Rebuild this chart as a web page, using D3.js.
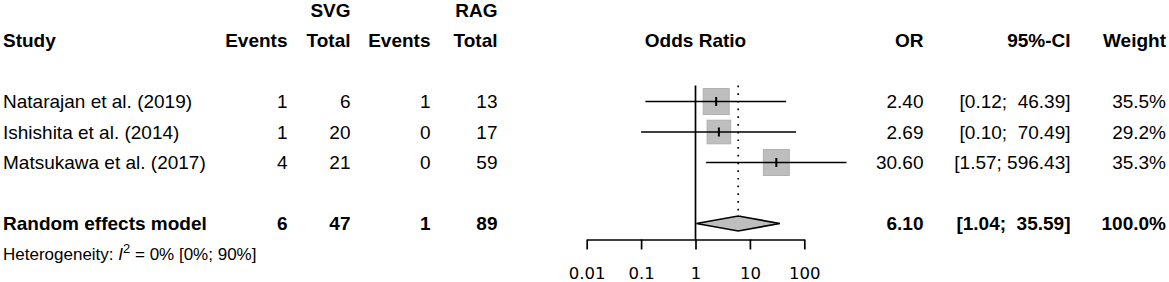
<!DOCTYPE html>
<html lang="en">
<head>
<meta charset="utf-8">
<title>Forest plot: SVG vs RAG</title>
<script src="https://d3js.org/d3.v7.min.js"></script>
<style>
  body { margin: 0; background: #fff; }
  svg text { font-family: "Liberation Sans", Arial, sans-serif; font-size: 19px; fill: #000; white-space: pre; }
  .bold { font-weight: bold; }
  .axis text { font-family: "DejaVu Sans", sans-serif; font-size: 16.5px; }
  .axis path, .axis line { stroke: #000; stroke-width: 1.7; }
</style>
</head>
<body>
<script>
// study level data
var studies   = ["Natarajan et al. (2019)", "Ishishita et al. (2014)", "Matsukawa et al. (2017)"];
var eventsSVG = [1, 1, 4];
var totalSVG  = [6, 20, 21];
var eventsRAG = [1, 0, 0];
var totalRAG  = [13, 17, 59];
var oddsRatio = [2.40, 2.69, 30.60];
var ciLower   = [0.12, 0.10, 1.57];
var ciUpper   = [46.39, 70.49, 596.43];
var weights   = [35.5, 29.2, 35.3];

// pooled result
var pooledLabel  = "Random effects model";
var pooledEvents = [6, 1];
var pooledTotal  = [47, 89];
var pooledOR     = 6.10;
var pooledCI     = [1.04, 35.59];
var pooledWeight = 100.0;

var xTicks = [0.01, 0.1, 1, 10, 100];

var width = 1169, height = 282;

var svg = d3.select("body").append("svg")
    .attr("width", width)
    .attr("height", height);

// one row every 30.5px
var rowY = function(i) { return 10 + 30.5 * i; };

var x = d3.scaleLog().domain([0.01, 100]).range([586.7, 804.3]);
var boxSize = d3.scaleSqrt().domain([0, 35.5]).range([0, 26]);

var col = { study: 3, evSVG: 287.5, totSVG: 350.5, evRAG: 430.5, totRAG: 497.5,
            or: 923.5, ci: 1070.5, weight: 1166 };

function txt(xp, row, s, anchor, bold) {
    return svg.append("text")
        .attr("x", xp)
        .attr("y", rowY(row))
        .attr("dy", "0.36em")
        .attr("text-anchor", anchor)
        .attr("class", bold ? "bold" : null)
        .text(s);
}

var f2 = d3.format(".2f");
function ciText(lo, hi) {
    var h = f2(hi);
    var pad = h.length < 6 ? "  " : " ";
    return "[" + f2(lo) + ";" + pad + h + "]";
}

// headers
txt(col.totSVG, 0, "SVG", "end", true);
txt(col.totRAG, 0, "RAG", "end", true);
txt(col.study, 1, "Study", "start", true);
txt(col.evSVG, 1, "Events", "end", true);
txt(col.totSVG, 1, "Total", "end", true);
txt(col.evRAG, 1, "Events", "end", true);
txt(col.totRAG, 1, "Total", "end", true);
txt(x(1), 1, "Odds Ratio", "middle", true);
txt(col.or, 1, "OR", "end", true);
txt(col.ci, 1, "95%-CI", "end", true);
txt(col.weight, 1, "Weight", "end", true);

// study rows
studies.forEach(function(s, i) {
    var r = 3 + i;
    txt(col.study, r, s, "start");
    txt(col.evSVG, r, eventsSVG[i], "end");
    txt(col.totSVG, r, totalSVG[i], "end");
    txt(col.evRAG, r, eventsRAG[i], "end");
    txt(col.totRAG, r, totalRAG[i], "end");
    txt(col.or, r, f2(oddsRatio[i]), "end");
    txt(col.ci, r, ciText(ciLower[i], ciUpper[i]), "end");
    txt(col.weight, r, d3.format(".1f")(weights[i]) + "%", "end");
});

// pooled row
txt(col.study, 7, pooledLabel, "start", true);
txt(col.evSVG, 7, pooledEvents[0], "end", true);
txt(col.totSVG, 7, pooledTotal[0], "end", true);
txt(col.evRAG, 7, pooledEvents[1], "end", true);
txt(col.totRAG, 7, pooledTotal[1], "end", true);
txt(col.or, 7, f2(pooledOR), "end", true);
txt(col.ci, 7, ciText(pooledCI[0], pooledCI[1]), "end", true);
txt(col.weight, 7, d3.format(".1f")(pooledWeight) + "%", "end", true);

// heterogeneity line
var het = svg.append("text")
    .attr("x", col.study)
    .attr("y", rowY(8))
    .attr("dy", "0.36em")
    .style("font-size", "17px");
het.append("tspan").text("Heterogeneity: ");
het.append("tspan").style("font-style", "italic").text("I");
het.append("tspan").attr("dy", "-7").style("font-size", "13px").text("2");
het.append("tspan").attr("dy", "7").text(" = 0% [0%; 90%]");

var plotTop = rowY(3) - 16;
var axisY = rowY(7) + 16;
var diaH = 7.5;

// line of no effect
svg.append("line")
    .attr("x1", x(1)).attr("x2", x(1))
    .attr("y1", plotTop).attr("y2", axisY)
    .attr("stroke", "#000").attr("stroke-width", 1.7);

// pooled estimate, dotted
svg.append("line")
    .attr("x1", x(pooledOR)).attr("x2", x(pooledOR))
    .attr("y1", plotTop).attr("y2", rowY(7) - diaH)
    .attr("stroke", "#000").attr("stroke-width", 1.7)
    .attr("stroke-dasharray", "1.7,6");

// squares
svg.selectAll(".box")
    .data(oddsRatio)
    .enter().append("rect")
    .attr("class", "box")
    .attr("x", function(d, i) { return x(d) - boxSize(weights[i]) / 2; })
    .attr("y", function(d, i) { return rowY(3 + i) - boxSize(weights[i]) / 2; })
    .attr("width", function(d, i) { return boxSize(weights[i]); })
    .attr("height", function(d, i) { return boxSize(weights[i]); })
    .attr("fill", "#bebebe")
    .attr("stroke", "#b0b0b0");

// confidence intervals
svg.selectAll(".ci")
    .data(oddsRatio)
    .enter().append("line")
    .attr("class", "ci")
    .attr("x1", function(d, i) { return x(ciLower[i]); })
    .attr("x2", function(d, i) { return x(ciUpper[i]); })
    .attr("y1", function(d, i) { return rowY(3 + i); })
    .attr("y2", function(d, i) { return rowY(3 + i); })
    .attr("stroke", "#000").attr("stroke-width", 1.7);

// estimate mark
svg.selectAll(".est")
    .data(oddsRatio)
    .enter().append("line")
    .attr("class", "est")
    .attr("x1", function(d) { return x(d); })
    .attr("x2", function(d) { return x(d); })
    .attr("y1", function(d, i) { return rowY(3 + i) - 4.5; })
    .attr("y2", function(d, i) { return rowY(3 + i) + 4.5; })
    .attr("stroke", "#000").attr("stroke-width", 2);

// diamond
var cy = rowY(7);
svg.append("path")
    .attr("d", "M" + x(pooledCI[0]) + "," + cy +
               "L" + x(pooledOR) + "," + (cy - diaH) +
               "L" + x(pooledCI[1]) + "," + cy +
               "L" + x(pooledOR) + "," + (cy + diaH) + "Z")
    .attr("fill", "#bebebe")
    .attr("stroke", "#000").attr("stroke-width", 1.7);

// axis
svg.append("g")
    .attr("class", "axis")
    .attr("transform", "translate(0," + axisY + ")")
    .call(d3.axisBottom(x)
        .tickValues(xTicks)
        .tickFormat(function(d) { return String(d); })
        .tickSize(10)
        .tickSizeOuter(0)
        .tickPadding(18));

</script>
</body>
</html>
